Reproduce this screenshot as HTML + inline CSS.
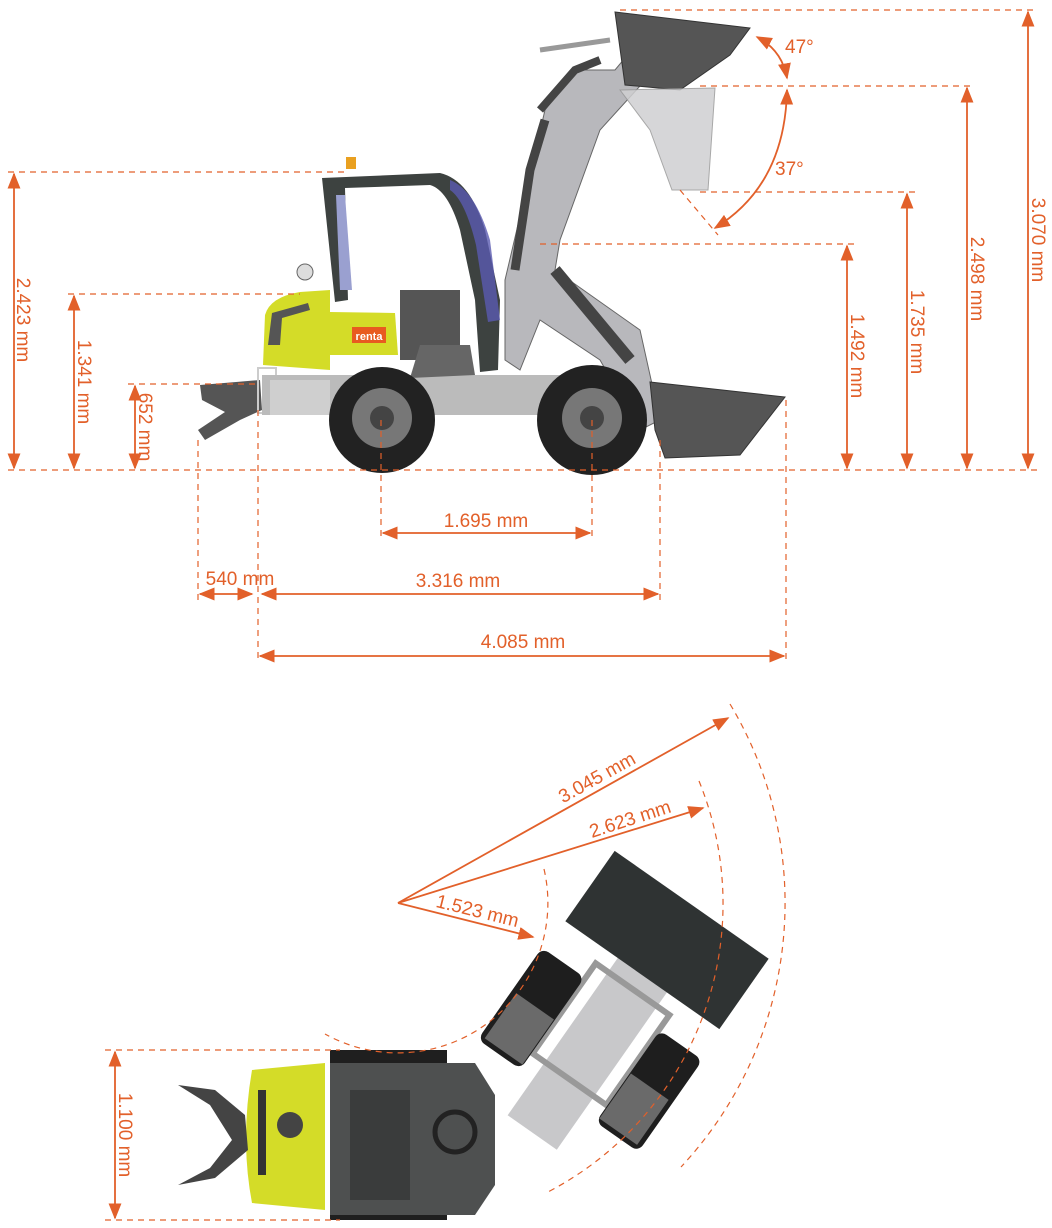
<!DOCTYPE html>
<html><head><meta charset="utf-8"><style>
html,body{margin:0;padding:0;background:#fff;}
svg{display:block;}
text{font-family:"Liberation Sans",sans-serif;fill:#e2602a;font-size:19px;}
</style></head><body>
<svg width="1052" height="1228" viewBox="0 0 1052 1228" xmlns="http://www.w3.org/2000/svg">
<defs>
<marker id="a" viewBox="0 0 10 10" refX="9" refY="5" markerWidth="9" markerHeight="9" orient="auto-start-reverse"><path d="M0,1 L10,5 L0,9 z" fill="#e2602a"/></marker>
</defs>

<!-- ===== Side view machine ===== -->
<g>
<path d="M200,385 L260,380 L262,410 L240,420 L205,440 L198,430 L225,412 L202,400 Z" fill="#555"/>
<rect x="258" y="368" width="18" height="45" fill="none" stroke="#ccc" stroke-width="2"/>
<rect x="262" y="375" width="300" height="40" fill="#bbb"/>
<rect x="270" y="380" width="60" height="35" fill="#cfcfcf"/>
<path d="M263,365 L265,315 Q270,297 300,292 L330,290 L330,370 Z" fill="#d4dc28"/>
<path d="M330,312 L395,313 L398,355 L330,355 Z" fill="#d4dc28"/>
<path d="M268,345 L272,313 L308,303 L310,310 L282,318 L280,345 Z" fill="#555"/>
<rect x="352" y="327" width="34" height="16" fill="#e85b20"/>
<text x="369" y="340" text-anchor="middle" style="fill:#fff;font-size:11px;font-weight:bold">renta</text>
<circle cx="305" cy="272" r="8" fill="#ddd" stroke="#666"/>
<path d="M322,178 L440,173 Q470,180 485,230 L500,300 L498,370 L480,372 L475,300 L460,230 Q448,190 430,185 L345,188 L348,300 L335,302 Z" fill="#3d4240"/>
<path d="M450,180 Q475,190 490,240 L500,320 L488,322 L476,245 Q465,200 450,190 Z" fill="#5a5ab0" opacity="0.8"/>
<path d="M336,195 L345,195 L352,290 L340,290 Z" fill="#9aa0d0"/>
<rect x="346" y="157" width="10" height="12" fill="#e9a020"/>
<rect x="400" y="290" width="60" height="70" fill="#555"/>
<path d="M420,345 L470,345 L475,375 L410,378 Z" fill="#666"/>
<path d="M505,280 L545,110 L575,70 L615,70 L640,40 L650,75 L600,130 L560,240 L555,270 L640,330 L660,420 L640,430 L600,360 L540,320 L520,370 L505,360 Z" fill="#b8b8bc" stroke="#666" stroke-width="1"/>
<path d="M540,110 L575,70 L600,60" stroke="#444" stroke-width="8" fill="none"/>
<path d="M515,270 L530,170 L545,120" stroke="#444" stroke-width="9" fill="none"/>
<path d="M555,270 L630,360" stroke="#444" stroke-width="12"/>
<path d="M540,50 L610,40" stroke="#999" stroke-width="5"/>
<path d="M615,12 L750,28 L730,55 L680,90 L625,85 Z" fill="#555" stroke="#333"/>
<path d="M620,90 L715,88 L708,190 L672,190 L650,130 Z" fill="#d0d0d2" stroke="#999" opacity="0.85"/>
<path d="M650,382 L785,397 L740,455 L665,458 L655,430 Z" fill="#555" stroke="#333"/>
<circle cx="382" cy="420" r="53" fill="#222"/>
<circle cx="382" cy="418" r="30" fill="#777"/>
<circle cx="382" cy="418" r="12" fill="#444"/>
<circle cx="592" cy="420" r="55" fill="#222"/>
<circle cx="592" cy="418" r="30" fill="#777"/>
<circle cx="592" cy="418" r="12" fill="#444"/>
</g>

<!-- ===== Side view dimensions ===== -->
<g stroke="#e2602a" stroke-width="1.2" stroke-dasharray="6,5" fill="none">
<line x1="8" y1="470" x2="1040" y2="470"/>
<line x1="8" y1="172" x2="345" y2="172"/>
<line x1="68" y1="294" x2="300" y2="294"/>
<line x1="128" y1="384" x2="255" y2="384"/>
<line x1="540" y1="244" x2="855" y2="244"/>
<line x1="700" y1="192" x2="915" y2="192"/>
<line x1="700" y1="86" x2="975" y2="86"/>
<line x1="620" y1="10" x2="1036" y2="10"/>
<line x1="680" y1="190" x2="718" y2="235"/>
<line x1="381" y1="420" x2="381" y2="540"/>
<line x1="592" y1="420" x2="592" y2="540"/>
<line x1="198" y1="440" x2="198" y2="602"/>
<line x1="258" y1="410" x2="258" y2="662"/>
<line x1="660" y1="440" x2="660" y2="602"/>
<line x1="786" y1="400" x2="786" y2="662"/>
</g>
<g stroke="#e2602a" stroke-width="1.8" fill="none">
<line x1="14" y1="174" x2="14" y2="468" marker-start="url(#a)" marker-end="url(#a)"/>
<line x1="74" y1="296" x2="74" y2="468" marker-start="url(#a)" marker-end="url(#a)"/>
<line x1="135" y1="386" x2="135" y2="468" marker-start="url(#a)" marker-end="url(#a)"/>
<line x1="847" y1="246" x2="847" y2="468" marker-start="url(#a)" marker-end="url(#a)"/>
<line x1="907" y1="194" x2="907" y2="468" marker-start="url(#a)" marker-end="url(#a)"/>
<line x1="967" y1="88" x2="967" y2="468" marker-start="url(#a)" marker-end="url(#a)"/>
<line x1="1028" y1="12" x2="1028" y2="468" marker-start="url(#a)" marker-end="url(#a)"/>
<line x1="383" y1="533" x2="590" y2="533" marker-start="url(#a)" marker-end="url(#a)"/>
<line x1="200" y1="594" x2="252" y2="594" marker-start="url(#a)" marker-end="url(#a)"/>
<line x1="262" y1="594" x2="658" y2="594" marker-start="url(#a)" marker-end="url(#a)"/>
<line x1="260" y1="656" x2="784" y2="656" marker-start="url(#a)" marker-end="url(#a)"/>
<path d="M757,37 Q782,50 787,78" marker-start="url(#a)" marker-end="url(#a)"/>
<path d="M787,90 Q785,185 715,228" marker-start="url(#a)" marker-end="url(#a)"/>
</g>
<text transform="translate(17,320) rotate(90)" text-anchor="middle">2.423 mm</text>
<text transform="translate(78,382) rotate(90)" text-anchor="middle">1.341 mm</text>
<text transform="translate(139,427) rotate(90)" text-anchor="middle">652 mm</text>
<text transform="translate(851,356) rotate(90)" text-anchor="middle">1.492 mm</text>
<text transform="translate(911,332) rotate(90)" text-anchor="middle">1.735 mm</text>
<text transform="translate(971,279) rotate(90)" text-anchor="middle">2.498 mm</text>
<text transform="translate(1032,240) rotate(90)" text-anchor="middle">3.070 mm</text>
<text x="486" y="527" text-anchor="middle">1.695 mm</text>
<text x="240" y="585" text-anchor="middle">540 mm</text>
<text x="458" y="587" text-anchor="middle">3.316 mm</text>
<text x="523" y="648" text-anchor="middle">4.085 mm</text>
<text x="785" y="53">47°</text>
<text x="775" y="175">37°</text>

<!-- ===== Top view machine ===== -->
<g>
<g transform="translate(667,940) rotate(35)">
<rect x="-30" y="40" width="60" height="195" fill="#c8c8ca"/>
<rect x="-45" y="60" width="90" height="110" fill="none" stroke="#999" stroke-width="6"/>
<rect x="-98" y="78" width="52" height="112" rx="8" fill="#1e1e1e"/>
<rect x="46" y="78" width="52" height="112" rx="8" fill="#1e1e1e"/>
<rect x="-93" y="130" width="46" height="55" fill="#6a6a6a"/>
<rect x="47" y="130" width="46" height="55" fill="#6a6a6a"/>
<rect x="-94" y="-43" width="188" height="86" fill="#2f3333"/>
</g>
<rect x="330" y="1050" width="117" height="170" fill="#1f1f1f"/>
<path d="M330,1063 L475,1063 L495,1095 L495,1185 L475,1215 L330,1215 Z" fill="#4e5050"/>
<rect x="350" y="1090" width="60" height="110" fill="#3a3c3c"/>
<circle cx="455" cy="1132" r="20" fill="none" stroke="#222" stroke-width="5"/>
<path d="M252,1070 L325,1063 L325,1210 L252,1203 Q240,1140 252,1070 Z" fill="#d4dc28"/>
<circle cx="290" cy="1125" r="13" fill="#444"/>
<rect x="258" y="1090" width="8" height="85" fill="#333"/>
<path d="M178,1085 L215,1090 L245,1115 L248,1150 L215,1178 L178,1185 L210,1168 L232,1140 L210,1105 Z" fill="#444"/>
</g>

<!-- ===== Top view dimensions ===== -->
<g stroke="#e2602a" stroke-width="1.2" stroke-dasharray="6,5" fill="none">
<path d="M544,869 A150,150 0 0 1 325,1034"/>
<path d="M699,781 A325,325 0 0 1 546,1193"/>
<path d="M730,704 A387,387 0 0 1 681,1167"/>
<line x1="105" y1="1050" x2="340" y2="1050"/>
<line x1="105" y1="1220" x2="340" y2="1220"/>
</g>
<g stroke="#e2602a" stroke-width="1.8" fill="none">
<line x1="398" y1="903" x2="728" y2="718" marker-end="url(#a)"/>
<line x1="398" y1="903" x2="703" y2="808" marker-end="url(#a)"/>
<line x1="398" y1="903" x2="533" y2="937" marker-end="url(#a)"/>
<line x1="115" y1="1052" x2="115" y2="1218" marker-start="url(#a)" marker-end="url(#a)"/>
</g>
<text transform="translate(600,783) rotate(-29)" text-anchor="middle">3.045 mm</text>
<text transform="translate(632,825) rotate(-18)" text-anchor="middle">2.623 mm</text>
<text transform="translate(476,917) rotate(14)" text-anchor="middle">1.523 mm</text>
<text transform="translate(119,1135) rotate(90)" text-anchor="middle">1.100 mm</text>
</svg>
</body></html>
